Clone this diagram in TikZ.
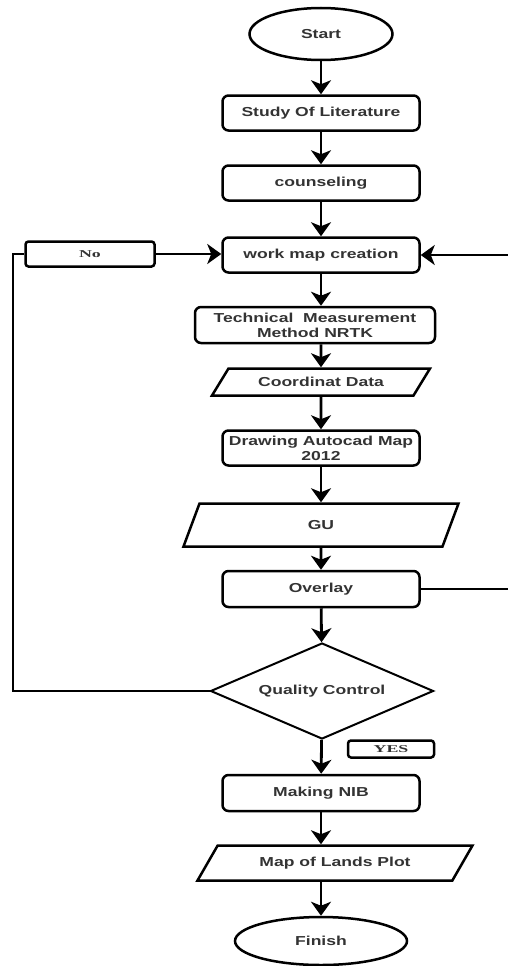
\documentclass[tikz,border=0pt]{standalone}
\usepackage{fontspec}
\setmainfont{Liberation Sans}
\newfontfamily\flowfont[FakeStretch=1.35]{Liberation Sans}
\newfontfamily\tagfont[FakeStretch=1.7]{Liberation Serif}
\usetikzlibrary{shapes.geometric,arrows.meta}
\definecolor{txtgray}{HTML}{333333}

\begin{document}
\begin{tikzpicture}[
    x=1pt, y=1pt,
    every node/.style={line width=2.5pt, text=txtgray, inner sep=1pt, align=center,
        font=\flowfont\fontsize{13}{15}\selectfont\bfseries},
    proc/.style={rectangle, rounded corners=6pt, draw, minimum width=197pt, minimum height=35pt},
    io/.style={trapezium, trapezium left angle=35, trapezium right angle=145,
        trapezium stretches body=true, draw, inner xsep=0pt},
    term/.style={ellipse, draw, inner sep=0pt},
    decide/.style={diamond, draw, line width=2pt, inner sep=0pt, aspect=2.3,
        minimum width=223pt, minimum height=96pt},
    tag/.style={rectangle, rounded corners=3pt, draw,
        font=\tagfont\fontsize{10.5}{12}\selectfont\bfseries},
    arrow/.style={-{Stealth[length=14pt, width=20pt, inset=4pt]}, line width=2.8pt},
    line/.style={line width=2.8pt}
]
\useasboundingbox (0,0) rectangle (508,-966);

% Main column: start -> field work
\node[term, minimum width=143pt, minimum height=52pt] (start) at (321,-34) {Start};
\node[proc] (study) at (321,-113) {Study Of Literature};
\node[proc] (couns) at (321,-183) {counseling};
\node[proc] (workmap) at (321,-255) {work map creation};
\node[proc, minimum width=240pt, minimum height=36pt] (tech) at (315,-325) {Technical\ \ Measurement\\Method NRTK};
\node[io, minimum width=218pt, minimum height=27pt] (coord) at (321,-382) {Coordinat Data};
\node[proc] (autocad) at (321,-448) {Drawing Autocad Map\\2012};
\node[io, minimum width=275pt, minimum height=43pt] (gu) at (321,-525) {GU};
\node[proc, minimum height=36pt] (overlay) at (321,-589) {Overlay};

% Check and outputs
\node[decide] (qc) at (322,-691) {Quality Control};
\node[tag, minimum width=86pt, minimum height=17pt] (yes) at (391,-749) {YES};
\node[tag, minimum width=129pt, minimum height=25pt] (no) at (90,-254) {No};
\node[proc, minimum height=36pt] (nib) at (321,-793) {Making NIB};
\node[io, minimum width=275pt, minimum height=35pt] (plot) at (335,-863) {Map of Lands Plot};
\node[term, minimum width=172pt, minimum height=48pt] (finish) at (321,-941) {Finish};

% Turning points of the loops
\coordinate (leftturn) at (13,-254);
\coordinate (rightturn) at (512,-255);

% Main column connections
\draw[arrow] (start) -- (study);
\draw[arrow] (study) -- (couns);
\draw[arrow] (couns) -- (workmap);
\draw[arrow] (workmap.south) -- (workmap.south |- tech.north);
\draw[arrow] (workmap.south |- tech.south) -- (coord.north);
\draw[arrow] (coord) -- (autocad);
\draw[arrow] (autocad) -- (gu);
\draw[arrow] (gu) -- (overlay);
\draw[arrow] (overlay) -- (qc);
\draw[arrow] (qc) -- (nib);
\draw[arrow] (nib.south) -- (nib.south |- plot.north);
\draw[arrow] (finish.north |- plot.south) -- (finish.north);

% No: back to work map creation
\draw[line] (qc.west) -| (leftturn) -- (no.west);
\draw[arrow] (no.east) -- (no.east -| workmap.west);

% Overlay loop on the right
\draw[arrow] (overlay.east) -| (rightturn) -- (workmap.east);

\end{tikzpicture}
\end{document}
